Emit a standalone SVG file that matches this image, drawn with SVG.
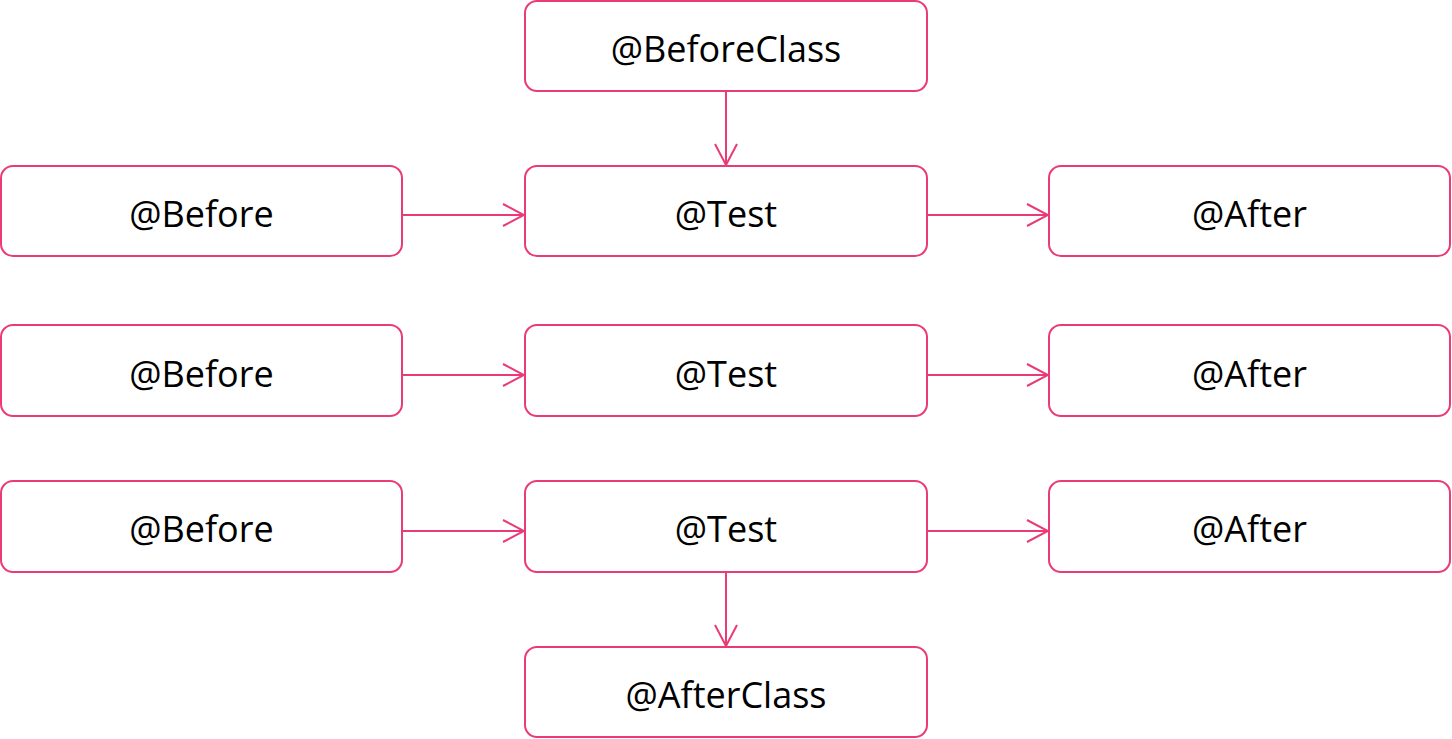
<svg xmlns="http://www.w3.org/2000/svg" width="1452" height="739" viewBox="0 0 1452 739">
<style>
.box{fill:#fff;stroke:#ea3a78;stroke-width:2}
.lbl{font-family:"Open Sans","Noto Sans",sans-serif;font-size:36px;fill:#000;text-anchor:middle;dominant-baseline:central}
.edge{stroke:#ea3a78;stroke-width:2;fill:none;marker-end:url(#arr)}
</style>
<defs>
<marker id="arr" markerWidth="24" markerHeight="26" refX="22" refY="12" orient="auto" markerUnits="userSpaceOnUse">
<path d="M1,1 L22,12 L1,23" fill="none" stroke="#ea3a78" stroke-width="2"/>
</marker>
</defs>
<rect width="1452" height="739" fill="#fff"/>
<g id="connectors">
<line class="edge" x1="726" y1="92" x2="726" y2="165"/>
<line class="edge" x1="403" y1="215" x2="524" y2="215"/>
<line class="edge" x1="928" y1="215" x2="1048" y2="215"/>
<line class="edge" x1="403" y1="375" x2="524" y2="375"/>
<line class="edge" x1="928" y1="375" x2="1048" y2="375"/>
<line class="edge" x1="403" y1="531" x2="524" y2="531"/>
<line class="edge" x1="928" y1="531" x2="1048" y2="531"/>
<line class="edge" x1="726" y1="573" x2="726" y2="646"/>
</g>
<g id="beforeClass"><rect class="box" x="525" y="1" width="402" height="90" rx="12"/><text class="lbl" x="726" y="48">@BeforeClass</text></g>
<g id="before1"><rect class="box" x="1" y="166" width="401" height="90" rx="12"/><text class="lbl" x="201.5" y="213">@Before</text></g>
<g id="test1"><rect class="box" x="525" y="166" width="402" height="90" rx="12"/><text class="lbl" x="726" y="213">@Test</text></g>
<g id="after1"><rect class="box" x="1049" y="166" width="401" height="90" rx="12"/><text class="lbl" x="1249.5" y="213">@After</text></g>
<g id="before2"><rect class="box" x="1" y="325" width="401" height="91" rx="12"/><text class="lbl" x="201.5" y="373">@Before</text></g>
<g id="test2"><rect class="box" x="525" y="325" width="402" height="91" rx="12"/><text class="lbl" x="726" y="373">@Test</text></g>
<g id="after2"><rect class="box" x="1049" y="325" width="401" height="91" rx="12"/><text class="lbl" x="1249.5" y="373">@After</text></g>
<g id="before3"><rect class="box" x="1" y="481" width="401" height="91" rx="12"/><text class="lbl" x="201.5" y="528">@Before</text></g>
<g id="test3"><rect class="box" x="525" y="481" width="402" height="91" rx="12"/><text class="lbl" x="726" y="528">@Test</text></g>
<g id="after3"><rect class="box" x="1049" y="481" width="401" height="91" rx="12"/><text class="lbl" x="1249.5" y="528">@After</text></g>
<g id="afterClass"><rect class="box" x="525" y="647" width="402" height="90" rx="12"/><text class="lbl" x="726" y="694">@AfterClass</text></g>
</svg>
